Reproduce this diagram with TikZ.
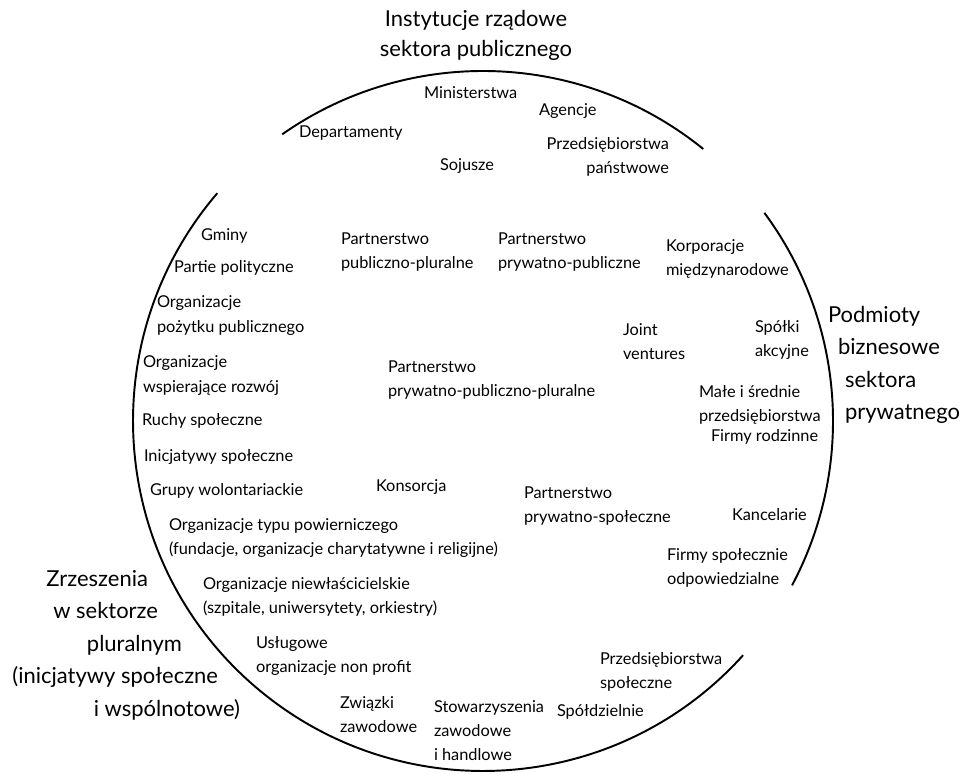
\documentclass[tikz,border=0pt]{standalone}
\usepackage{fontspec}
\setmainfont{Lato}
\usepackage{tikz}

\begin{document}
\begin{tikzpicture}

\tikzstyle{every node} = [inner sep=0pt, outer sep=0pt, align=left, font=\fontsize{9.3}{13.7}\selectfont]
\tikzstyle{sector} = [font=\fontsize{12.5}{18.5}\selectfont]
\tikzstyle{rim} = [line width=1.1pt]

\useasboundingbox (0,0) rectangle (19.44,15.5);

\coordinate (o) at (9.66,7.08);

\draw[rim] ([shift={(51:7)}]o) arc[start angle=51, end angle=125, radius=7];
\draw[rim] ([shift={(-28:7)}]o) arc[start angle=-28, end angle=36.5, radius=7];
\draw[rim] ([shift={(139.4:7)}]o) arc[start angle=139.4, end angle=318, radius=7];

\node[sector, align=center, font=\fontsize{12.5}{17}\selectfont] (pub) at (9.52,14.80) {Instytucje rządowe\\sektora publicznego};
\node[sector, anchor=west] (biz) at (16.56,8.20) {Podmioty\\\rule{0.2cm}{0pt}biznesowe\\\rule{0.34cm}{0pt}sektora\\\rule{0.34cm}{0pt}prywatnego};
\node[sector, anchor=east, align=right] (plu) at (4.80,2.60) {Zrzeszenia\rule{1.84cm}{0pt}\\w sektorze\rule{1.64cm}{0pt}\\pluralnym\rule{1.16cm}{0pt}\\(inicjatywy społeczne\rule{0.44cm}{0pt}\\i wspólnotowe)};

\node[anchor=west] (dep) at (5.98,12.84) {Departamenty};
\node[anchor=west] (min) at (8.48,13.64) {Ministerstwa};
\node[anchor=west] (age) at (10.78,13.28) {Agencje};
\node[anchor=west] (soj) at (8.80,12.18) {Sojusze};
\node[anchor=east, align=right] (pp) at (13.38,12.37) {Przedsiębiorstwa\\państwowe};

\node[anchor=west] (gmi) at (4.02,10.78) {Gminy};
\node[anchor=west] (par) at (3.48,10.14) {Partie polityczne};
\node[anchor=west] (opp) at (3.14,9.19) {Organizacje\\pożytku publicznego};
\node[anchor=west] (owr) at (2.86,7.99) {Organizacje\\wspierające rozwój};
\node[anchor=west] (ruc) at (2.84,7.08) {Ruchy społeczne};
\node[anchor=west] (ini) at (2.88,6.36) {Inicjatywy społeczne};
\node[anchor=west] (gru) at (3.00,5.68) {Grupy wolontariackie};
\node[anchor=west] (otp) at (3.38,4.74) {Organizacje typu powierniczego\\(fundacje, organizacje charytatywne i religijne)};
\node[anchor=west] (oni) at (4.06,3.57) {Organizacje niewłaścicielskie\\(szpitale, uniwersytety, orkiestry)};
\node[anchor=west] (usl) at (5.12,2.38) {Usługowe\\organizacje non profit};
\node[anchor=west] (zwi) at (6.80,1.20) {Związki\\zawodowe};
\node[anchor=west] (sto) at (8.68,0.88) {Stowarzyszenia\\zawodowe\\i handlowe};
\node[anchor=west] (spd) at (11.14,1.26) {Spółdzielnie};
\node[anchor=west] (pse) at (12.00,2.07) {Przedsiębiorstwa\\społeczne};

\node[anchor=west] (ppl) at (6.82,10.46) {Partnerstwo\\publiczno-pluralne};
\node[anchor=west] (ppu) at (9.96,10.46) {Partnerstwo\\prywatno-publiczne};
\node[anchor=west] (kor) at (13.32,10.32) {Korporacje\\międzynarodowe};
\node[anchor=west] (joi) at (12.46,8.66) {Joint\\ventures};
\node[anchor=west] (spo) at (15.10,8.70) {Spółki\\akcyjne};
\node[anchor=west] (ppp) at (7.76,7.90) {Partnerstwo\\prywatno-publiczno-pluralne};
\node[anchor=west] (mal) at (13.98,7.40) {Małe i średnie\\przedsiębiorstwa};
\node[anchor=west] (fro) at (14.22,6.76) {Firmy rodzinne};
\node[anchor=west] (kan) at (14.64,5.20) {Kancelarie};
\node[anchor=west] (fso) at (13.34,4.14) {Firmy społecznie\\odpowiedzialne};
\node[anchor=west] (pso) at (10.48,5.38) {Partnerstwo\\prywatno-społeczne};
\node[anchor=west] (kon) at (7.52,5.76) {Konsorcja};

\end{tikzpicture}
\end{document}
